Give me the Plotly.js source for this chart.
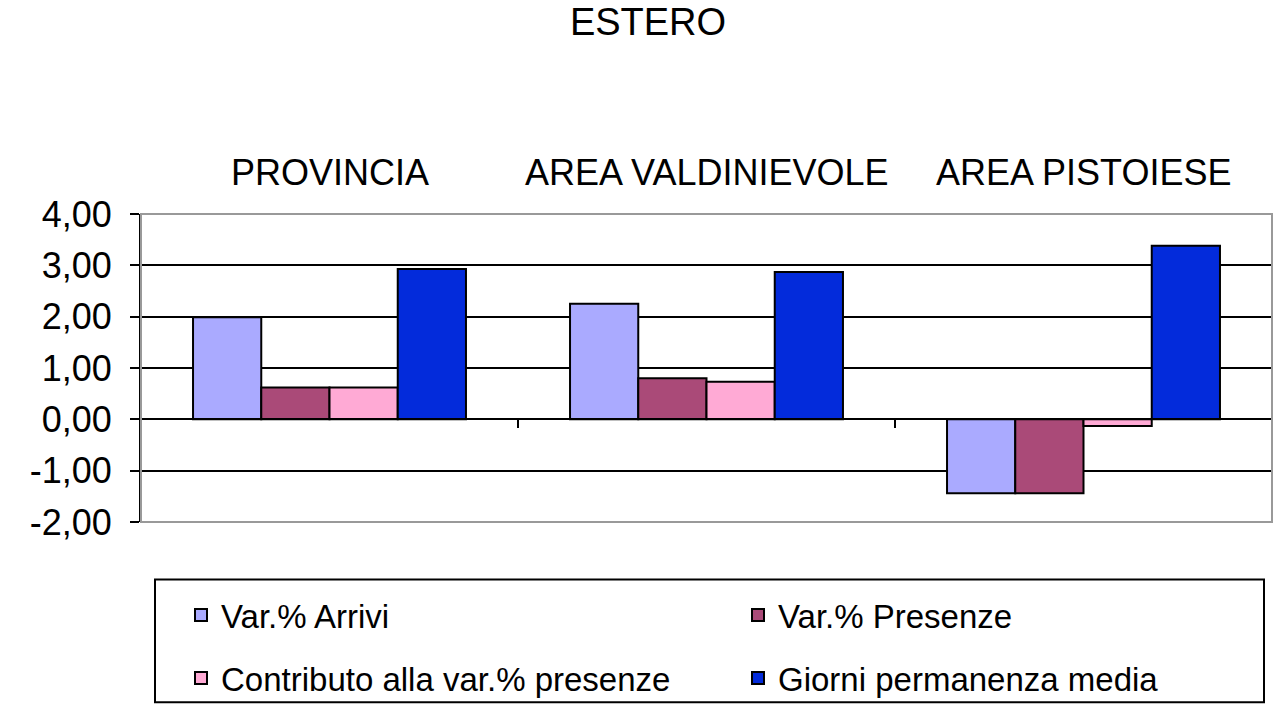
<!DOCTYPE html>
<html>
<head>
<meta charset="utf-8">
<script src="https://cdn.plot.ly/plotly-3.0.1.min.js"></script>
<style>
  html, body { margin: 0; padding: 0; background: #ffffff; }
  #chart { width: 1274px; height: 705px; }
</style>
</head>
<body>
<div id="chart"></div>
<script>
// ---- data ----
const categories = ['PROVINCIA', 'AREA VALDINIEVOLE', 'AREA PISTOIESE'];
const seriesNames = ['Var.% Arrivi', 'Var.% Presenze', 'Contributo alla var.% presenze', 'Giorni permanenza media'];
const arrivi = [1.99, 2.25, -1.44];
const presenze = [0.62, 0.80, -1.44];
const contributo = [0.62, 0.73, -0.13];
const giorni = [2.93, 2.87, 3.38];
const yTickValues = [-2, -1, 0, 1, 2, 3, 4];
const chartTitle = 'ESTERO';

// ---- styles ----
const colors = ['#AAAAFF', '#AA4A78', '#FFAAD5', '#032BDB'];
const values = [arrivi, presenze, contributo, giorni];
const legendIds = ['legend', 'legend2', 'legend3', 'legend4'];
// legend cell positions in page pixels: [left, vertical centre]
const legendCells = [[181, 615], [738, 615], [181, 678], [738, 678]];
const FONT = '"Liberation Sans", Arial, sans-serif';

// plot-area pixel geometry (for placing paper-referenced items)
const W = 1274, H = 705;
const L = 141, R = 1272, T = 214, B = 522.5;
const pw = R - L, ph = B - T;
const px2x = p => (p - L) / pw;
const py2y = p => (B - p) / ph;

const yTickText = yTickValues.map(v => v.toFixed(2).replace('.', ','));

const traces = values.map((v, i) => ({
  type: 'bar',
  name: seriesNames[i],
  x: categories,
  y: v,
  legend: legendIds[i],
  marker: { color: colors[i], line: { color: '#000000', width: 2 } },
  hoverinfo: 'name+y'
}));

const annotations = categories.map(c => ({
  x: c, xref: 'x',
  y: py2y(172.5), yref: 'paper',
  text: c, showarrow: false,
  xanchor: 'center', yanchor: 'middle',
  font: { family: FONT, size: 36, color: '#000000' }
}));

const layout = {
  width: W, height: H,
  paper_bgcolor: '#ffffff',
  plot_bgcolor: '#ffffff',
  font: { family: FONT, color: '#000000' },
  separators: ',.',
  margin: { l: L, r: W - R, t: T, b: H - B, pad: 0, autoexpand: false },
  title: {
    text: chartTitle,
    xref: 'container', x: 648 / W, xanchor: 'center',
    yref: 'container', y: 1 - 22 / H, yanchor: 'middle',
    font: { family: FONT, size: 38, color: '#000000' }
  },
  barmode: 'group',
  bargap: 0.276,
  bargroupgap: 0,
  xaxis: {
    type: 'category',
    categoryorder: 'array',
    categoryarray: categories,
    range: [-0.5, 2.5],
    anchor: 'free',
    position: 1 / 3,
    showline: true, linecolor: '#000000', linewidth: 2,
    ticks: 'outside', tickson: 'boundaries', ticklen: 8, tickwidth: 2, tickcolor: '#000000',
    showticklabels: false,
    showgrid: false,
    zeroline: false,
    fixedrange: true
  },
  yaxis: {
    domain: [0, 1],
    range: [-2, 4],
    tickmode: 'array',
    tickvals: yTickValues,
    ticktext: yTickText,
    showline: true, linecolor: '#000000', linewidth: 2,
    ticks: 'outside', ticklen: 9, tickwidth: 2, tickcolor: '#000000',
    ticklabelstandoff: 11,
    tickfont: { family: FONT, size: 36, color: '#000000' },
    showgrid: true, gridcolor: '#000000', gridwidth: 2,
    zeroline: false,
    fixedrange: true
  },
  showlegend: true,
  annotations: annotations,
  shapes: [
    // plot-area frame (grey, Excel style)
    { type: 'rect', xref: 'paper', yref: 'paper', x0: 0, x1: 1, y0: 0, y1: 1,
      line: { color: '#999999', width: 2 }, fillcolor: 'rgba(0,0,0,0)', layer: 'above' },
    // legend frame
    { type: 'rect', xref: 'paper', yref: 'paper',
      x0: px2x(155), x1: px2x(1264), y0: py2y(703), y1: py2y(580),
      line: { color: '#000000', width: 2 }, fillcolor: 'rgba(0,0,0,0)', layer: 'above' }
  ]
};

legendIds.forEach((id, i) => {
  layout[id] = {
    orientation: 'v',
    xref: 'container', yref: 'container',
    x: legendCells[i][0] / W, xanchor: 'left',
    y: 1 - legendCells[i][1] / H, yanchor: 'middle',
    bgcolor: 'rgba(0,0,0,0)', borderwidth: 0,
    font: { family: FONT, size: 33, color: '#000000' }
  };
});

Plotly.newPlot('chart', traces, layout, { displayModeBar: false, staticPlot: true });
</script>
</body>
</html>
